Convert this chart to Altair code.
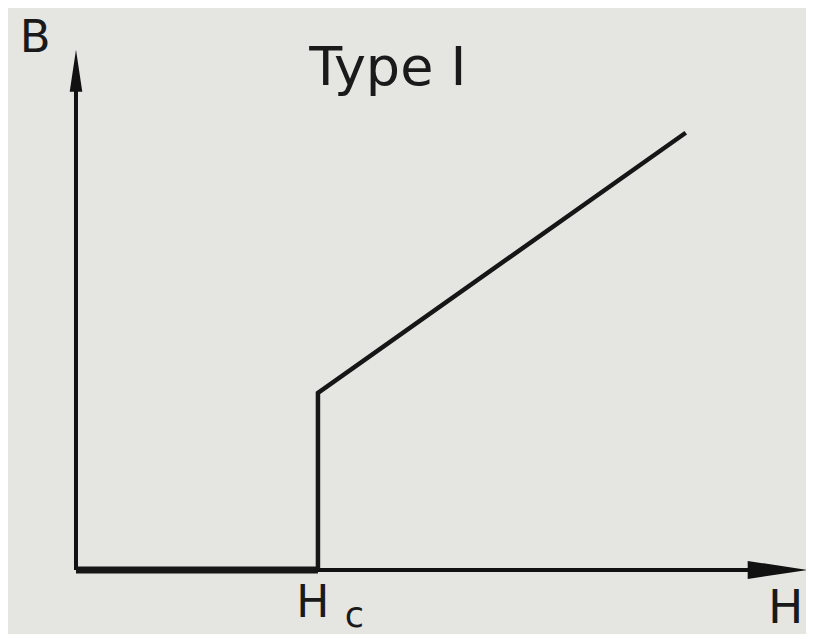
import altair as alt
import pandas as pd

# Magnetisation curve of a type I superconductor (H in units of Hc, B in units of B at Hc)
curve_h = [0.0, 1.0, 1.0, 1.0, 2.52]
curve_b = [0.0, 0.0, 0.0, 1.0, 2.47]
curve_part = ["meissner", "meissner", "normal", "normal", "normal"]
part_width = {"meissner": 7, "normal": 4.5}

# axis lines (x from, y from, x to, y to)
axis_x1 = [0.0, 0.0]
axis_y1 = [0.0, 0.0]
axis_x2 = [2.80, 0.0]
axis_y2 = [0.0, 2.75]

# arrow heads
arrow_h = [2.90, 0.0]
arrow_b = [0.0, 2.82]
arrow_shape = ["M1,0L-1,0.3L-1,-0.3Z", "M0,-1L0.3,1L-0.3,1Z"]
arrow_size = [3600, 1764]

# labels
label_text = ["B", "Type  I", "H", "c", "H"]
label_h = [-0.169, 1.289, 0.979, 1.150, 2.860]
label_b = [2.925, 2.740, -0.266, -0.325, -0.299]
label_size = [45, 54, 44, 35, 47]
label_align = ["center", "center", "center", "center", "left"]

XMIN, XMAX = -0.281, 3.017
YMIN, YMAX = -0.362, 3.175

xs = alt.Scale(domain=[XMIN, XMAX], nice=False, zero=False)
ys = alt.Scale(domain=[YMIN, YMAX], nice=False, zero=False)

curve_df = pd.DataFrame({"H": curve_h, "B": curve_b, "part": curve_part,
                         "w": [part_width[p] for p in curve_part],
                         "i": list(range(len(curve_h)))})
axis_df = pd.DataFrame({"x1": axis_x1, "y1": axis_y1, "x2": axis_x2, "y2": axis_y2})
arrow_df = pd.DataFrame({"H": arrow_h, "B": arrow_b, "shape": arrow_shape, "size": arrow_size})

axes = alt.Chart(axis_df).mark_rule(color="#111111", strokeWidth=4).encode(
    x=alt.X("x1:Q", scale=xs, axis=None),
    y=alt.Y("y1:Q", scale=ys, axis=None),
    x2="x2:Q",
    y2="y2:Q",
)

arrows = alt.Chart(arrow_df).mark_point(filled=True, color="#111111", opacity=1, strokeWidth=0).encode(
    x=alt.X("H:Q", scale=xs, axis=None),
    y=alt.Y("B:Q", scale=ys, axis=None),
    shape=alt.Shape("shape:N", scale=None, legend=None),
    size=alt.Size("size:Q", scale=None, legend=None),
)

curve = alt.Chart(curve_df).mark_line(color="#161616", strokeJoin="miter").encode(
    x=alt.X("H:Q", scale=xs, axis=None),
    y=alt.Y("B:Q", scale=ys, axis=None),
    detail="part:N",
    strokeWidth=alt.StrokeWidth("w:Q", scale=None, legend=None),
    order="i:O",
)

layers = [axes, arrows, curve]
for t, h, b, fs, al in zip(label_text, label_h, label_b, label_size, label_align):
    d = pd.DataFrame({"t": [t], "H": [h], "B": [b]})
    layers.append(
        alt.Chart(d).mark_text(font="DejaVu Sans", fontSize=fs, align=al,
                               baseline="alphabetic", color="#1a1a1a").encode(
            x=alt.X("H:Q", scale=xs, axis=None),
            y=alt.Y("B:Q", scale=ys, axis=None),
            text="t:N",
        )
    )

chart = alt.layer(*layers).properties(
    width=798, height=626, padding=0, autosize=alt.AutoSizeParams(type="none"),
    background="#e5e6e2",
).configure_view(stroke=None)

chart.save("out.html", embed_options={"renderer": "svg", "actions": False})
